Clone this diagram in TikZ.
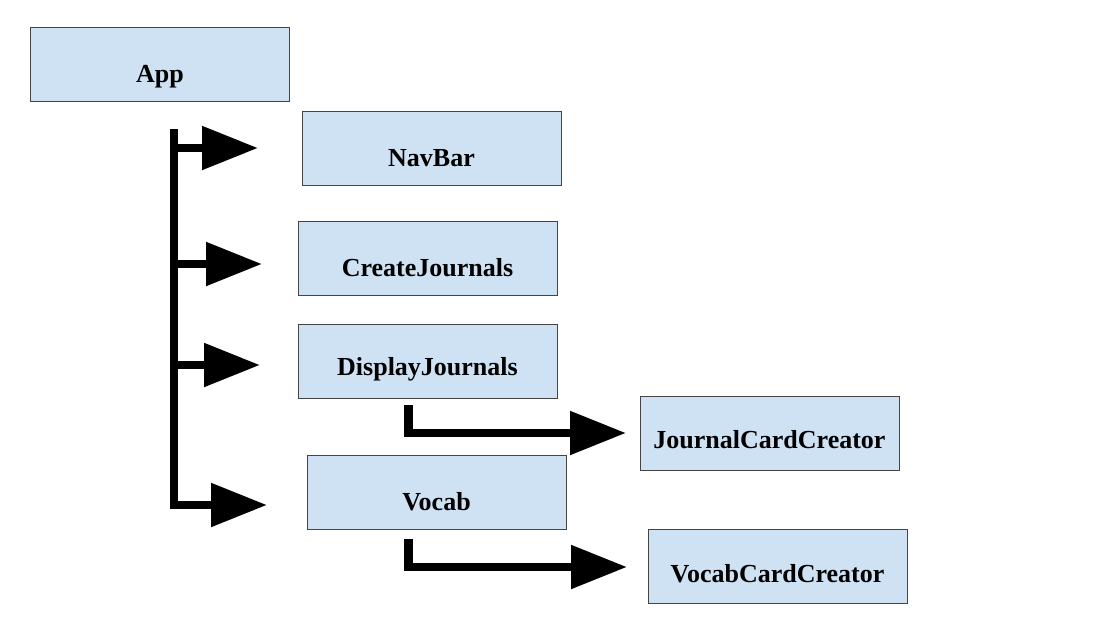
\documentclass[tikz,border=0pt]{standalone}
\usepackage{fontspec}
\setmainfont{Liberation Serif}
\usetikzlibrary{arrows.meta}
\definecolor{boxfill}{HTML}{CFE2F3}
\definecolor{boxline}{HTML}{444444}
\begin{document}
\begin{tikzpicture}[x=1pt,y=-1pt,
  comp/.style={draw=boxline,line width=0.8pt,fill=boxfill,minimum width=259pt,
    inner sep=0pt,text height=55pt,text depth=19pt,font=\fontsize{26}{30}\selectfont\bfseries},
  bar/.style={line width=8.5pt,line cap=butt},
  bigarrow/.style={line width=8.5pt,-{Triangle[length=56pt,width=42pt]}}]
\useasboundingbox (0,0) rectangle (1109,641);
\node[comp] (app) at (160,64) {App};
\node[comp] (nav) at (431.5,148) {NavBar};
\node[comp] (create) at (427.5,258) {CreateJournals};
\node[comp,text height=51pt,text depth=23pt] (display) at (427.5,361) {DisplayJournals};
\node[comp,text height=52pt,text depth=22pt] (jcc) at (769.5,433.5) {JournalCardCreator};
\node[comp] (vocab) at (436.5,492.5) {Vocab};
\node[comp,text height=53pt,text depth=21pt] (vcc) at (777.5,566.5) {VocabCardCreator};
% trunk
\coordinate (ttop) at (174,129);
\coordinate (tbot) at (174,509);
\draw[bar] (ttop) -- (tbot);
\coordinate (b1) at (170,148);
\coordinate (b2) at (170,264);
\coordinate (b3) at (170,365);
\coordinate (b4) at (170,505);
\draw[bigarrow] (b1) -- (258,148);
\draw[bigarrow] (b2) -- (262,264);
\draw[bigarrow] (b3) -- (260,365);
\draw[bigarrow] (b4) -- (267,505);
% sub arrows
\coordinate (s1) at (408.5,405);
\coordinate (s2) at (408.5,539);
\draw[bigarrow] (s1) |- (626,433);
\draw[bigarrow] (s2) |- (627,567);
\end{tikzpicture}
\end{document}
